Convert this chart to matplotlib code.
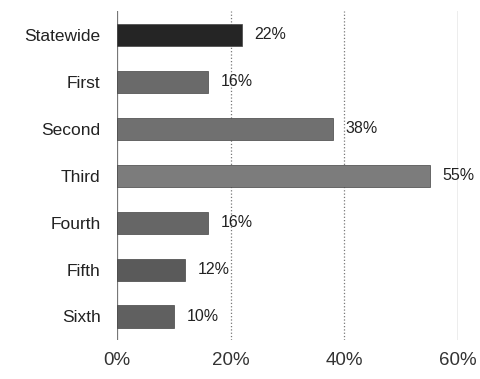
import matplotlib
matplotlib.use("Agg")
import matplotlib.pyplot as plt

plt.rcParams['font.family'] = ['Liberation Sans', 'DejaVu Sans']

# data
categories = ["Statewide", "First", "Second", "Third", "Fourth", "Fifth", "Sixth"]
values = [22, 16, 38, 55, 16, 12, 10]
bar_colors = ["#252525", "#6a6a6a", "#707070", "#7c7c7c", "#666666", "#5a5a5a", "#606060"]
ticks = [0, 20, 40, 60]
tick_labels = ["0%", "20%", "40%", "60%"]

fig = plt.figure(figsize=(4.8, 3.79), dpi=100)
ax = fig.add_axes([0.244, 0.103, 0.71, 0.867])

# vertical grid lines
for t, ls in zip(ticks, ["-", ":", ":", "-"]):
    ax.axvline(t, color="#777777", lw=0.9, ls=ls, zorder=0)

y = list(range(len(categories)))
ax.barh(y, values, height=0.47, color=bar_colors, edgecolor="#444444", lw=0.5, zorder=2)

for yi, v in zip(y, values):
    ax.text(v + 2.2, yi, f"{v}%", va="center", ha="left", fontsize=11.5, color="#222222", zorder=3)

ax.set_xlim(0, 60)
ax.set_ylim(6.5, -0.5)
ax.set_yticks(y)
ax.set_yticklabels(categories, fontsize=12.5, color="#222222")
ax.set_xticks(ticks)
ax.set_xticklabels(tick_labels, fontsize=13.5, color="#333333")
ax.tick_params(length=0)
ax.tick_params(axis='x', pad=9)
ax.tick_params(axis='y', pad=12)
for s in ax.spines.values():
    s.set_visible(False)

fig.savefig("out.png", dpi=100)
